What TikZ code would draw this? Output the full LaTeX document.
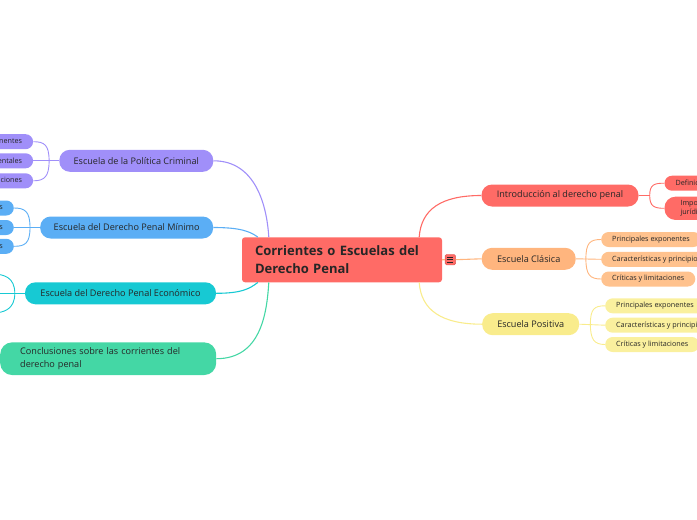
\documentclass[tikz,border=0pt]{standalone}
\usepackage{fontspec}
\setmainfont{Open Sans}
\usepackage{tikz}
\usetikzlibrary{positioning}

\definecolor{rojo}{HTML}{FF6B66}
\definecolor{naranja}{HTML}{FFB57E}
\definecolor{naranjaclaro}{HTML}{FFC28E}
\definecolor{amarillo}{HTML}{F9EC8C}
\definecolor{amarilloclaro}{HTML}{FAF09E}
\definecolor{lila}{HTML}{A08FF9}
\definecolor{azul}{HTML}{5BAEF5}
\definecolor{turquesa}{HTML}{17C9D3}
\definecolor{verde}{HTML}{44D7A5}
\definecolor{tinta}{HTML}{262626}

\begin{document}
\begin{tikzpicture}[x=1pt,y=-1pt,
    rama/.style={rounded corners=10.5pt,inner sep=0pt,minimum height=22pt,text=tinta,font=\fontsize{9.1}{11}\selectfont},
    hoja/.style={rounded corners=7.5pt,inner ysep=0pt,inner xsep=11pt,minimum height=15pt,text=tinta,font=\fontsize{7.2}{8.6}\selectfont},
    enlace/.style={line width=1.1pt},
    enlacehoja/.style={line width=0.9pt}]
    \useasboundingbox (0,0) rectangle (697,520); % page

    % central topic
    \node[fill=rojo,rounded corners=3pt,minimum width=200pt,minimum height=45pt,text width=174pt,inner xsep=13pt,align=left,text=tinta,
          font=\bfseries\fontsize{13}{18.3}\selectfont] (centro) at (342,259.8) {Corrientes o Escuelas del\\Derecho Penal};
    \node[fill=rojo,draw=rojo!85!black,line width=0.4pt,rounded corners=1.5pt,minimum size=10.5pt,inner sep=0pt] (icono) at (450.3,259.7) {};
    \foreach \d in {-2.4,0,2.4}
        \draw[tinta,line width=0.9pt] ([xshift=-3pt,yshift=\d pt]icono.center) -- ([xshift=3pt,yshift=\d pt]icono.center);

    % right side
    \node[rama,fill=rojo,minimum width=157pt] (intro) at (560,195.5) {Introducción al derecho penal};
    \node[rama,fill=naranja,minimum width=94pt] (clasica) at (528.7,258.8) {Escuela Clásica};
    \node[rama,fill=amarillo,minimum width=97pt] (positiva) at (530.7,324.2) {Escuela Positiva};

    \node[hoja,fill=rojo,anchor=west] (int1) at (664.3,183.2) {Definición};
    \node[hoja,fill=rojo,anchor=west,align=left,inner xsep=16pt,minimum height=23.3pt,rounded corners=11pt] (int2) at (664.3,208.3) {Importancia\\jurídica};

    \node[hoja,fill=naranjaclaro,anchor=west] (cl1) at (601,239.5) {Principales exponentes};
    \node[hoja,fill=naranjaclaro,anchor=west] (cl2) at (601,259.3) {Características y principios};
    \node[hoja,fill=naranjaclaro,anchor=west] (cl3) at (601,279) {Críticas y limitaciones};

    \node[hoja,fill=amarilloclaro,anchor=west] (po1) at (605,305.8) {Principales exponentes};
    \node[hoja,fill=amarilloclaro,anchor=west] (po2) at (605,325.2) {Características y principios};
    \node[hoja,fill=amarilloclaro,anchor=west] (po3) at (605,344.5) {Críticas y limitaciones};

    % left side
    \node[rama,fill=lila,minimum width=154pt] (politica) at (136.3,160.8) {Escuela de la Política Criminal};
    \node[rama,fill=azul,minimum width=173pt] (minimo) at (126.7,227.5) {Escuela del Derecho Penal Mínimo};
    \node[rama,fill=turquesa,minimum width=191pt] (economico) at (120.5,293.3) {Escuela del Derecho Penal Económico};
    \node[rama,fill=verde,anchor=west,text width=176pt,inner xsep=20pt,minimum height=32.7pt,align=left,rounded corners=12pt,
          font=\fontsize{9.1}{12.5}\selectfont] (conclusiones) at (0,358.7) {Conclusiones sobre las corrientes del\\derecho penal};

    \node[hoja,fill=lila,anchor=east] (pol1) at (33.3,141.7) {Principales exponentes};
    \node[hoja,fill=lila,anchor=east] (pol2) at (33.3,160.8) {Postulados fundamentales};
    \node[hoja,fill=lila,anchor=east] (pol3) at (33.3,180.8) {Críticas y limitaciones};

    \node[hoja,fill=azul,anchor=east] (min1) at (14,208) {Principales exponentes};
    \node[hoja,fill=azul,anchor=east] (min2) at (14,227.5) {Características y principios};
    \node[hoja,fill=azul,anchor=east] (min3) at (14,246.3) {Críticas y limitaciones};

    % main connectors
    \draw[enlace,rojo] (intro.west) .. controls +(-40,0) and +(2,-28) .. ([xshift=-23pt]centro.north east);
    \draw[enlace,naranja] (centro.east) -- (icono.west);
    \draw[enlace,naranja] (icono.east) -- (clasica.west);
    \draw[enlace,amarillo] (positiva.west) .. controls +(-40,0) and +(2,28) .. ([xshift=-23pt]centro.south east);
    \draw[enlace,lila] (politica.east) .. controls +(42,0) and +(-2,-32) .. ([xshift=27pt]centro.north west);
    \draw[enlace,azul] (minimo.east) .. controls +(26,0) and +(-8,-6) .. ([xshift=16pt]centro.north west);
    \draw[enlace,turquesa] (economico.east) .. controls +(26,0) and +(-8,6) .. ([xshift=16pt]centro.south west);
    \draw[enlace,verde] (conclusiones.east) .. controls +(44,0) and +(-2,32) .. ([xshift=27pt]centro.south west);

    % branch brackets
    \draw[enlacehoja,rojo] (intro.east) -- +(11,0) coordinate (ij);
    \draw[enlacehoja,rojo] (ij) .. controls +(0,-11) and +(-10,0) .. (int1.west);
    \draw[enlacehoja,rojo] (ij) .. controls +(0,11) and +(-10,0) .. (int2.west);

    \draw[enlacehoja,naranja] (clasica.east) -- (cl2.west);
    \coordinate (cj) at ([xshift=10pt]clasica.east);
    \draw[enlacehoja,naranja] (cj) .. controls +(0,-16) and +(-11,0) .. (cl1.west);
    \draw[enlacehoja,naranja] (cj) .. controls +(0,16) and +(-11,0) .. (cl3.west);

    \draw[enlacehoja,amarillo] (positiva.east) -- (po2.west);
    \coordinate (pj) at ([xshift=11pt]positiva.east);
    \draw[enlacehoja,amarillo] (pj) .. controls +(0,-15) and +(-11,0) .. (po1.west);
    \draw[enlacehoja,amarillo] (pj) .. controls +(0,15) and +(-11,0) .. (po3.west);

    \draw[enlacehoja,lila] (politica.west) -- (pol2.east);
    \coordinate (lj) at ([xshift=-10pt]politica.west);
    \draw[enlacehoja,lila] (lj) .. controls +(0,-16) and +(11,0) .. (pol1.east);
    \draw[enlacehoja,lila] (lj) .. controls +(0,16) and +(11,0) .. (pol3.east);

    \draw[enlacehoja,azul] (minimo.west) -- (min2.east);
    \coordinate (mj) at ([xshift=-10pt]minimo.west);
    \draw[enlacehoja,azul] (mj) .. controls +(0,-16) and +(11,0) .. (min1.east);
    \draw[enlacehoja,azul] (mj) .. controls +(0,16) and +(11,0) .. (min3.east);

    \coordinate (e1) at (-8,274); % hidden children
    \coordinate (e2) at (-8,293.3);
    \coordinate (e3) at (-8,313);
    \draw[enlacehoja,turquesa] (economico.west) -- (e2);
    \coordinate (ej) at ([xshift=-10pt]economico.west);
    \draw[enlacehoja,turquesa] (ej) .. controls +(0,-16) and +(12,0) .. (e1);
    \draw[enlacehoja,turquesa] (ej) .. controls +(0,16) and +(12,0) .. (e3);
\end{tikzpicture}
\end{document}
